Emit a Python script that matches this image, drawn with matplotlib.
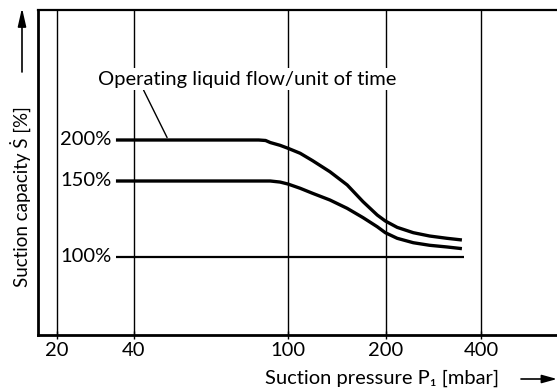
import numpy as np
import matplotlib.pyplot as plt

plt.rcParams['font.family'] = ['Lato', 'DejaVu Sans']

# x axis: suction pressure P1 [mbar]
pressure_ticks = [20, 40, 100, 200, 400]

# operating-liquid levels named on the chart
level_values = [100, 150, 200]
level_labels = ["100%", "150%", "200%"]

# suction capacity curves, read along the pressure axis
p_200 = [34, 84, 87.5, 90, 95.4, 100, 109, 119, 134.5, 152, 170, 188, 199, 217, 244, 275, 312, 348]
s_200 = [200, 200, 199.4, 196.9, 193.5, 189.9, 183.8, 174.8, 161.3, 147.4, 136.4,
         127.6, 123.7, 119.5, 116, 113.8, 112.3, 111.2]
p_150 = [34, 90, 95.4, 100, 109, 119, 134.5, 152, 170, 188, 199, 217, 244, 275, 312, 348]
s_150 = [150, 150, 149.3, 148, 145.2, 141.9, 137.5, 132, 125.9, 119.9, 116, 112.3,
         109.4, 107.7, 106.6, 105.5]
p_100 = [34, 353]
s_100 = [100, 100]

# the printed axes are not strictly logarithmic / linear, so both scales
# are piecewise: data knots -> position along the axis
X_KNOTS = np.log10([16.9, 20, 40, 100, 200, 400, 695])
X_POS = np.array([38, 57, 134, 288, 386, 481, 557], float)
Y_KNOTS = np.array([48.7, 100, 150, 200, 358.5])
Y_POS = np.array([0, 78, 154, 195, 325], float)


def x_fwd(x):
    return np.interp(np.log10(np.clip(x, 1e-9, None)), X_KNOTS, X_POS)


def x_inv(t):
    return 10 ** np.interp(t, X_POS, X_KNOTS)


def y_fwd(y):
    return np.interp(y, Y_KNOTS, Y_POS)


def y_inv(t):
    return np.interp(t, Y_POS, Y_KNOTS)


FS = 14.5

fig = plt.figure(figsize=(5.57, 3.90), dpi=100)
ax = fig.add_axes([38 / 557, 55 / 390, 1 - 38 / 557, 325 / 390])
ax.set_xscale('function', functions=(x_fwd, x_inv))
ax.set_yscale('function', functions=(y_fwd, y_inv))
ax.set_xlim(10 ** X_KNOTS[0], 10 ** X_KNOTS[-1])
ax.set_ylim(Y_KNOTS[0], Y_KNOTS[-1])

ax.set_xticks(pressure_ticks)
ax.set_xticklabels([str(p) for p in pressure_ticks])
ax.xaxis.set_minor_locator(plt.NullLocator())
ax.set_yticks([])
ax.yaxis.set_minor_locator(plt.NullLocator())
ax.tick_params(axis='x', direction='inout', length=6, width=1, pad=2,
               labelsize=FS, colors='black')
ax.grid(axis='x', color='black', lw=1)
ax.set_axisbelow(True)

ax.spines['right'].set_visible(False)
ax.spines['left'].set_linewidth(2)
ax.spines['bottom'].set_linewidth(2)
ax.spines['top'].set_linewidth(1.6)

ax.plot(p_200, s_200, color='black', lw=2.4, solid_capstyle='butt')
ax.plot(p_150, s_150, color='black', lw=2.4, solid_capstyle='butt')
ax.plot(p_100, s_100, color='black', lw=1.6, solid_capstyle='butt')

for val, lab in zip(level_values, level_labels):
    ax.annotate(lab, xy=(p_100[0], val), xytext=(-3, 0),
                textcoords='offset points', ha='right', va='center',
                fontsize=FS)

ax.annotate("Operating liquid flow/unit of time", xy=(48.7, 203),
            xytext=(-50, 42), textcoords='offset points',
            ha='left', va='center', fontsize=FS,
            bbox=dict(boxstyle='square,pad=0.12', fc='white', ec='none'),
            arrowprops=dict(arrowstyle='-', lw=1, color='black',
                            shrinkA=0, shrinkB=0, relpos=(0.15, 0.0)))

fig.text(382 / 557, 1 - 378 / 390, "Suction pressure P\u2081 [mbar]",
         ha='center', va='center', fontsize=FS)
fig.text(20 / 557, 1 - 197 / 390, "Suction capacity \u1E60 [%]",
         ha='center', va='center', rotation=90, fontsize=13.5)

# direction arrows next to the axis titles
ax.annotate("", xy=(557, 11), xytext=(521, 11), xycoords='figure pixels',
            arrowprops=dict(arrowstyle='-|>,head_length=0.9,head_width=0.25',
                            lw=1.2, color='black', shrinkA=0, shrinkB=0))
ax.annotate("", xy=(22, 382), xytext=(22, 318), xycoords='figure pixels',
            arrowprops=dict(arrowstyle='-|>,head_length=1.1,head_width=0.25',
                            lw=1.2, color='black', shrinkA=0, shrinkB=0))

fig.savefig("out.png", dpi=100)
